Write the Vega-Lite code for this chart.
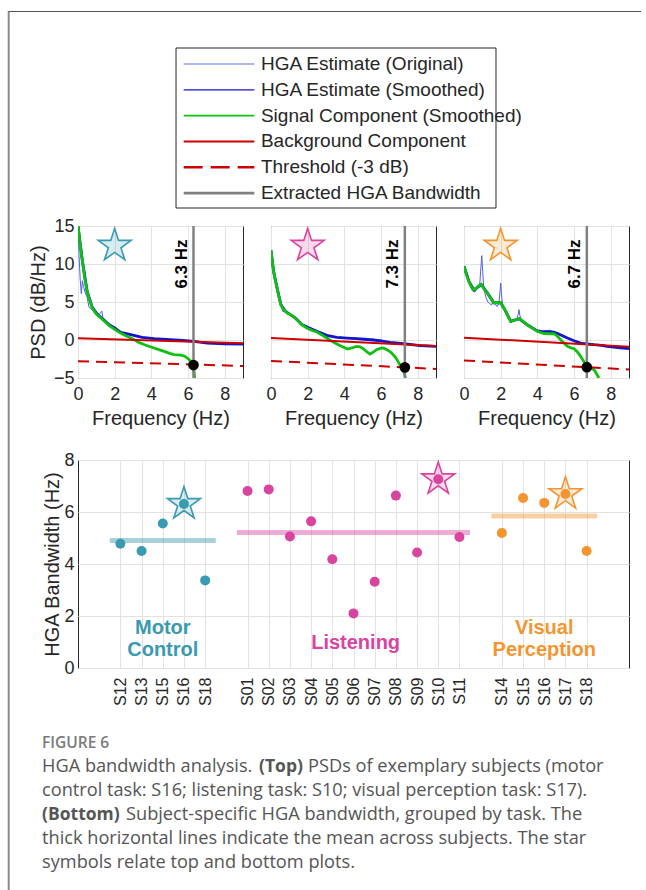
{
  "$schema": "https://vega.github.io/schema/vega-lite/v6.json",
  "background": "white",
  "padding": {"left": 7, "top": 9, "right": 0, "bottom": 0},
  "config": {
    "view": {"stroke": null},
    "font": "Liberation Sans",
    "text": {"font": "Liberation Sans"},
    "axis": {"labelFont": "Liberation Sans", "titleFont": "Liberation Sans", "labelFontSize": 18, "titleFontSize": 20, "labelColor": "#262626", "titleColor": "#262626", "titleFontWeight": "normal", "gridColor": "#e2e2e2", "gridWidth": 1, "domain": false, "ticks": false}
  },
  "datasets": {
    "legend": [
      {"row": 1, "series": "HGA Estimate (Original)"},
      {"row": 2, "series": "HGA Estimate (Smoothed)"},
      {"row": 3, "series": "Signal Component (Smoothed)"},
      {"row": 4, "series": "Background Component"},
      {"row": 5, "series": "Threshold (-3 dB)"},
      {"row": 6, "series": "Extracted HGA Bandwidth"}
    ],
    "psd": [
      {"p":1,"s":"o","f":0,"v":15},{"p":1,"s":"o","f":0.06,"v":11},{"p":1,"s":"o","f":0.12,"v":8},{"p":1,"s":"o","f":0.18,"v":6.1},{"p":1,"s":"o","f":0.24,"v":7.8},{"p":1,"s":"o","f":0.3,"v":7},{"p":1,"s":"o","f":0.4,"v":6.2},{"p":1,"s":"o","f":0.5,"v":5.6},{"p":1,"s":"o","f":0.6,"v":4.3},{"p":1,"s":"o","f":0.7,"v":4.1},{"p":1,"s":"o","f":0.8,"v":3.9},{"p":1,"s":"o","f":0.9,"v":3.6},{"p":1,"s":"o","f":1,"v":3.3},{"p":1,"s":"o","f":1.1,"v":3.1},{"p":1,"s":"o","f":1.2,"v":3.5},{"p":1,"s":"o","f":1.3,"v":3.8},{"p":1,"s":"o","f":1.35,"v":3},{"p":1,"s":"o","f":1.5,"v":2.6},{"p":1,"s":"o","f":1.7,"v":2.1},{"p":1,"s":"o","f":2,"v":1.6},{"p":1,"s":"o","f":2.3,"v":1.1},{"p":1,"s":"o","f":2.6,"v":0.9},{"p":1,"s":"o","f":3,"v":0.65},{"p":1,"s":"o","f":3.4,"v":0.4},{"p":1,"s":"o","f":3.8,"v":0.3},{"p":1,"s":"o","f":4.2,"v":0.2},{"p":1,"s":"o","f":4.6,"v":0.1},{"p":1,"s":"o","f":5,"v":0.05},{"p":1,"s":"o","f":5.5,"v":0},{"p":1,"s":"o","f":6,"v":-0.1},{"p":1,"s":"o","f":6.5,"v":-0.25},{"p":1,"s":"o","f":7,"v":-0.4},{"p":1,"s":"o","f":7.5,"v":-0.45},{"p":1,"s":"o","f":8,"v":-0.5},{"p":1,"s":"o","f":8.5,"v":-0.52},{"p":1,"s":"o","f":9,"v":-0.55},
      {"p":1,"s":"m","f":0,"v":15},{"p":1,"s":"m","f":0.24,"v":10.4},{"p":1,"s":"m","f":0.5,"v":6.4},{"p":1,"s":"m","f":0.78,"v":4.3},{"p":1,"s":"m","f":1.05,"v":3.4},{"p":1,"s":"m","f":1.42,"v":2.6},{"p":1,"s":"m","f":1.7,"v":2},{"p":1,"s":"m","f":2,"v":1.6},{"p":1,"s":"m","f":2.33,"v":1},{"p":1,"s":"m","f":2.7,"v":0.8},{"p":1,"s":"m","f":3.05,"v":0.6},{"p":1,"s":"m","f":3.5,"v":0.35},{"p":1,"s":"m","f":4.15,"v":0.18},{"p":1,"s":"m","f":5.05,"v":0.04},{"p":1,"s":"m","f":5.7,"v":-0.05},{"p":1,"s":"m","f":6.33,"v":-0.18},{"p":1,"s":"m","f":7.05,"v":-0.4},{"p":1,"s":"m","f":8,"v":-0.5},{"p":1,"s":"m","f":9,"v":-0.55},
      {"p":1,"s":"g","f":0,"v":15},{"p":1,"s":"g","f":0.12,"v":12.5},{"p":1,"s":"g","f":0.24,"v":10.4},{"p":1,"s":"g","f":0.36,"v":8.2},{"p":1,"s":"g","f":0.5,"v":6.4},{"p":1,"s":"g","f":0.64,"v":5.2},{"p":1,"s":"g","f":0.78,"v":4.2},{"p":1,"s":"g","f":0.92,"v":3.7},{"p":1,"s":"g","f":1.05,"v":3.3},{"p":1,"s":"g","f":1.25,"v":2.9},{"p":1,"s":"g","f":1.42,"v":2.5},{"p":1,"s":"g","f":1.7,"v":1.9},{"p":1,"s":"g","f":2,"v":1.4},{"p":1,"s":"g","f":2.25,"v":1},{"p":1,"s":"g","f":2.5,"v":0.7},{"p":1,"s":"g","f":2.8,"v":0.35},{"p":1,"s":"g","f":3.05,"v":0.05},{"p":1,"s":"g","f":3.3,"v":-0.3},{"p":1,"s":"g","f":3.6,"v":-0.6},{"p":1,"s":"g","f":3.9,"v":-0.85},{"p":1,"s":"g","f":4.15,"v":-1.05},{"p":1,"s":"g","f":4.45,"v":-1.3},{"p":1,"s":"g","f":4.7,"v":-1.5},{"p":1,"s":"g","f":5,"v":-1.75},{"p":1,"s":"g","f":5.24,"v":-1.93},{"p":1,"s":"g","f":5.6,"v":-2},{"p":1,"s":"g","f":5.8,"v":-2.1},{"p":1,"s":"g","f":5.96,"v":-2.37},{"p":1,"s":"g","f":6.15,"v":-2.8},{"p":1,"s":"g","f":6.3,"v":-3.3},{"p":1,"s":"g","f":6.36,"v":-5},
      {"p":1,"s":"b","f":0,"v":0.22},{"p":1,"s":"b","f":9,"v":-0.42},
      {"p":1,"s":"t","f":0,"v":-2.78},{"p":1,"s":"t","f":9,"v":-3.42},
      {"p":1,"s":"w","f":6.3,"v":-3.3,"lab":"6.3 Hz"},
      {"p":1,"s":"k","f":2,"v":12.4},
      {"p":2,"s":"o","f":0,"v":11.8},{"p":2,"s":"o","f":0.14,"v":9},{"p":2,"s":"o","f":0.33,"v":6.9},{"p":2,"s":"o","f":0.54,"v":4.6},{"p":2,"s":"o","f":0.66,"v":3.7},{"p":2,"s":"o","f":0.78,"v":3.9},{"p":2,"s":"o","f":0.92,"v":3.3},{"p":2,"s":"o","f":1.05,"v":3.5},{"p":2,"s":"o","f":1.2,"v":3},{"p":2,"s":"o","f":1.32,"v":3},{"p":2,"s":"o","f":1.5,"v":2.4},{"p":2,"s":"o","f":1.68,"v":2.1},{"p":2,"s":"o","f":1.85,"v":1.7},{"p":2,"s":"o","f":2,"v":1.75},{"p":2,"s":"o","f":2.2,"v":1.4},{"p":2,"s":"o","f":2.4,"v":1.3},{"p":2,"s":"o","f":2.6,"v":1},{"p":2,"s":"o","f":2.8,"v":0.95},{"p":2,"s":"o","f":3,"v":0.7},{"p":2,"s":"o","f":3.2,"v":0.5},{"p":2,"s":"o","f":3.4,"v":0.5},{"p":2,"s":"o","f":3.6,"v":0.3},{"p":2,"s":"o","f":3.8,"v":0.42},{"p":2,"s":"o","f":4,"v":0.22},{"p":2,"s":"o","f":4.2,"v":0.35},{"p":2,"s":"o","f":4.4,"v":0.15},{"p":2,"s":"o","f":4.6,"v":0.3},{"p":2,"s":"o","f":4.8,"v":0.1},{"p":2,"s":"o","f":5,"v":0.2},{"p":2,"s":"o","f":5.2,"v":0},{"p":2,"s":"o","f":5.4,"v":0.12},{"p":2,"s":"o","f":5.6,"v":0.1},{"p":2,"s":"o","f":5.8,"v":-0.1},{"p":2,"s":"o","f":6,"v":0},{"p":2,"s":"o","f":6.2,"v":-0.2},{"p":2,"s":"o","f":6.4,"v":-0.25},{"p":2,"s":"o","f":6.6,"v":-0.35},{"p":2,"s":"o","f":6.8,"v":-0.3},{"p":2,"s":"o","f":7,"v":-0.5},{"p":2,"s":"o","f":7.2,"v":-0.42},{"p":2,"s":"o","f":7.4,"v":-0.55},{"p":2,"s":"o","f":7.6,"v":-0.5},{"p":2,"s":"o","f":7.8,"v":-0.68},{"p":2,"s":"o","f":8,"v":-0.65},{"p":2,"s":"o","f":8.2,"v":-0.8},{"p":2,"s":"o","f":8.4,"v":-0.72},{"p":2,"s":"o","f":8.6,"v":-0.85},{"p":2,"s":"o","f":8.8,"v":-0.8},{"p":2,"s":"o","f":9,"v":-0.9},
      {"p":2,"s":"m","f":0,"v":11.8},{"p":2,"s":"m","f":0.14,"v":9.05},{"p":2,"s":"m","f":0.33,"v":6.86},{"p":2,"s":"m","f":0.54,"v":4.66},{"p":2,"s":"m","f":0.78,"v":3.78},{"p":2,"s":"m","f":1.05,"v":3.34},{"p":2,"s":"m","f":1.32,"v":2.9},{"p":2,"s":"m","f":1.68,"v":2.05},{"p":2,"s":"m","f":2,"v":1.67},{"p":2,"s":"m","f":2.5,"v":1.14},{"p":2,"s":"m","f":3.04,"v":0.62},{"p":2,"s":"m","f":3.59,"v":0.35},{"p":2,"s":"m","f":4.13,"v":0.26},{"p":2,"s":"m","f":4.67,"v":0.18},{"p":2,"s":"m","f":5.1,"v":0.1},{"p":2,"s":"m","f":5.58,"v":0},{"p":2,"s":"m","f":6,"v":-0.12},{"p":2,"s":"m","f":6.49,"v":-0.31},{"p":2,"s":"m","f":7.21,"v":-0.48},{"p":2,"s":"m","f":7.7,"v":-0.6},{"p":2,"s":"m","f":8.12,"v":-0.75},{"p":2,"s":"m","f":9,"v":-0.84},
      {"p":2,"s":"g","f":0,"v":11.8},{"p":2,"s":"g","f":0.07,"v":10.4},{"p":2,"s":"g","f":0.14,"v":9.05},{"p":2,"s":"g","f":0.24,"v":7.8},{"p":2,"s":"g","f":0.33,"v":6.86},{"p":2,"s":"g","f":0.44,"v":5.6},{"p":2,"s":"g","f":0.54,"v":4.66},{"p":2,"s":"g","f":0.66,"v":4.1},{"p":2,"s":"g","f":0.78,"v":3.78},{"p":2,"s":"g","f":0.92,"v":3.5},{"p":2,"s":"g","f":1.05,"v":3.34},{"p":2,"s":"g","f":1.2,"v":3.1},{"p":2,"s":"g","f":1.32,"v":2.9},{"p":2,"s":"g","f":1.5,"v":2.45},{"p":2,"s":"g","f":1.68,"v":2},{"p":2,"s":"g","f":2,"v":1.5},{"p":2,"s":"g","f":2.25,"v":1.25},{"p":2,"s":"g","f":2.5,"v":1.05},{"p":2,"s":"g","f":2.75,"v":0.7},{"p":2,"s":"g","f":3.04,"v":0.26},{"p":2,"s":"g","f":3.3,"v":-0.15},{"p":2,"s":"g","f":3.59,"v":-0.53},{"p":2,"s":"g","f":3.9,"v":-0.9},{"p":2,"s":"g","f":4.17,"v":-1.19},{"p":2,"s":"g","f":4.4,"v":-1.05},{"p":2,"s":"g","f":4.67,"v":-0.84},{"p":2,"s":"g","f":4.85,"v":-0.9},{"p":2,"s":"g","f":5.04,"v":-1.14},{"p":2,"s":"g","f":5.2,"v":-1.5},{"p":2,"s":"g","f":5.4,"v":-1.85},{"p":2,"s":"g","f":5.58,"v":-1.6},{"p":2,"s":"g","f":5.76,"v":-1.27},{"p":2,"s":"g","f":5.95,"v":-1.1},{"p":2,"s":"g","f":6.12,"v":-1.05},{"p":2,"s":"g","f":6.35,"v":-1.3},{"p":2,"s":"g","f":6.58,"v":-1.71},{"p":2,"s":"g","f":6.8,"v":-2.3},{"p":2,"s":"g","f":7.03,"v":-3.25},{"p":2,"s":"g","f":7.2,"v":-3.7},{"p":2,"s":"g","f":7.34,"v":-5},
      {"p":2,"s":"b","f":0,"v":0.25},{"p":2,"s":"b","f":9,"v":-0.8},
      {"p":2,"s":"t","f":0,"v":-2.75},{"p":2,"s":"t","f":9,"v":-3.8},
      {"p":2,"s":"w","f":7.3,"v":-3.6,"lab":"7.3 Hz"},
      {"p":2,"s":"k","f":2,"v":12.4},
      {"p":3,"s":"o","f":0,"v":9.7},{"p":3,"s":"o","f":0.15,"v":8.3},{"p":3,"s":"o","f":0.3,"v":7.3},{"p":3,"s":"o","f":0.45,"v":6.5},{"p":3,"s":"o","f":0.6,"v":6.3},{"p":3,"s":"o","f":0.75,"v":6.9},{"p":3,"s":"o","f":0.85,"v":7},{"p":3,"s":"o","f":0.92,"v":9.5},{"p":3,"s":"o","f":0.97,"v":11.1},{"p":3,"s":"o","f":1.02,"v":9},{"p":3,"s":"o","f":1.08,"v":6.8},{"p":3,"s":"o","f":1.2,"v":5.6},{"p":3,"s":"o","f":1.3,"v":5},{"p":3,"s":"o","f":1.4,"v":4.8},{"p":3,"s":"o","f":1.5,"v":4.6},{"p":3,"s":"o","f":1.6,"v":5.2},{"p":3,"s":"o","f":1.7,"v":4.7},{"p":3,"s":"o","f":1.8,"v":4.4},{"p":3,"s":"o","f":1.9,"v":4.8},{"p":3,"s":"o","f":1.97,"v":6.5},{"p":3,"s":"o","f":2,"v":7.5},{"p":3,"s":"o","f":2.04,"v":6.2},{"p":3,"s":"o","f":2.1,"v":4.6},{"p":3,"s":"o","f":2.2,"v":4.2},{"p":3,"s":"o","f":2.3,"v":3.4},{"p":3,"s":"o","f":2.4,"v":2.9},{"p":3,"s":"o","f":2.55,"v":2.3},{"p":3,"s":"o","f":2.7,"v":2.5},{"p":3,"s":"o","f":2.85,"v":2.6},{"p":3,"s":"o","f":2.95,"v":3.3},{"p":3,"s":"o","f":3,"v":4},{"p":3,"s":"o","f":3.05,"v":3.2},{"p":3,"s":"o","f":3.15,"v":2.6},{"p":3,"s":"o","f":3.3,"v":2.4},{"p":3,"s":"o","f":3.5,"v":1.9},{"p":3,"s":"o","f":3.7,"v":1.7},{"p":3,"s":"o","f":3.9,"v":1.2},{"p":3,"s":"o","f":4.1,"v":1.3},{"p":3,"s":"o","f":4.3,"v":1.1},{"p":3,"s":"o","f":4.5,"v":1.2},{"p":3,"s":"o","f":4.7,"v":1.3},{"p":3,"s":"o","f":4.9,"v":1},{"p":3,"s":"o","f":5.1,"v":0.85},{"p":3,"s":"o","f":5.3,"v":0.6},{"p":3,"s":"o","f":5.5,"v":0.35},{"p":3,"s":"o","f":5.7,"v":0.2},{"p":3,"s":"o","f":5.9,"v":0.05},{"p":3,"s":"o","f":6.1,"v":-0.1},{"p":3,"s":"o","f":6.3,"v":-0.35},{"p":3,"s":"o","f":6.5,"v":-0.4},{"p":3,"s":"o","f":6.7,"v":-0.55},{"p":3,"s":"o","f":6.9,"v":-0.5},{"p":3,"s":"o","f":7.1,"v":-0.65},{"p":3,"s":"o","f":7.3,"v":-0.6},{"p":3,"s":"o","f":7.5,"v":-0.75},{"p":3,"s":"o","f":7.7,"v":-0.8},{"p":3,"s":"o","f":7.9,"v":-0.85},{"p":3,"s":"o","f":8.1,"v":-0.9},{"p":3,"s":"o","f":8.3,"v":-1},{"p":3,"s":"o","f":8.5,"v":-0.95},{"p":3,"s":"o","f":8.7,"v":-1.1},{"p":3,"s":"o","f":8.9,"v":-1.15},{"p":3,"s":"o","f":9,"v":-1.15},
      {"p":3,"s":"m","f":0,"v":9.7},{"p":3,"s":"m","f":0.27,"v":7.7},{"p":3,"s":"m","f":0.54,"v":6.6},{"p":3,"s":"m","f":0.94,"v":7.3},{"p":3,"s":"m","f":1.27,"v":6.2},{"p":3,"s":"m","f":1.63,"v":4.9},{"p":3,"s":"m","f":2,"v":4.9},{"p":3,"s":"m","f":2.27,"v":3.8},{"p":3,"s":"m","f":2.55,"v":2.46},{"p":3,"s":"m","f":3,"v":2.8},{"p":3,"s":"m","f":3.45,"v":2},{"p":3,"s":"m","f":4,"v":1.2},{"p":3,"s":"m","f":4.18,"v":1.14},{"p":3,"s":"m","f":4.5,"v":1.1},{"p":3,"s":"m","f":4.9,"v":1.05},{"p":3,"s":"m","f":5.2,"v":0.75},{"p":3,"s":"m","f":5.64,"v":0.26},{"p":3,"s":"m","f":6,"v":-0.1},{"p":3,"s":"m","f":6.36,"v":-0.4},{"p":3,"s":"m","f":6.7,"v":-0.5},{"p":3,"s":"m","f":7.09,"v":-0.62},{"p":3,"s":"m","f":7.5,"v":-0.72},{"p":3,"s":"m","f":7.8,"v":-0.84},{"p":3,"s":"m","f":8.4,"v":-1},{"p":3,"s":"m","f":9,"v":-1.14},
      {"p":3,"s":"g","f":0,"v":9.7},{"p":3,"s":"g","f":0.13,"v":8.6},{"p":3,"s":"g","f":0.27,"v":7.7},{"p":3,"s":"g","f":0.4,"v":7},{"p":3,"s":"g","f":0.54,"v":6.6},{"p":3,"s":"g","f":0.7,"v":6.9},{"p":3,"s":"g","f":0.85,"v":7.2},{"p":3,"s":"g","f":0.94,"v":7.3},{"p":3,"s":"g","f":1.05,"v":6.9},{"p":3,"s":"g","f":1.15,"v":6.5},{"p":3,"s":"g","f":1.27,"v":6.2},{"p":3,"s":"g","f":1.45,"v":5.5},{"p":3,"s":"g","f":1.63,"v":4.9},{"p":3,"s":"g","f":1.8,"v":4.95},{"p":3,"s":"g","f":2,"v":4.9},{"p":3,"s":"g","f":2.13,"v":4.4},{"p":3,"s":"g","f":2.27,"v":3.8},{"p":3,"s":"g","f":2.4,"v":3.1},{"p":3,"s":"g","f":2.55,"v":2.46},{"p":3,"s":"g","f":2.75,"v":2.6},{"p":3,"s":"g","f":3,"v":2.8},{"p":3,"s":"g","f":3.2,"v":2.5},{"p":3,"s":"g","f":3.45,"v":2},{"p":3,"s":"g","f":3.7,"v":1.6},{"p":3,"s":"g","f":4,"v":1.14},{"p":3,"s":"g","f":4.2,"v":0.95},{"p":3,"s":"g","f":4.36,"v":0.84},{"p":3,"s":"g","f":4.6,"v":0.82},{"p":3,"s":"g","f":4.9,"v":0.84},{"p":3,"s":"g","f":5.1,"v":0.5},{"p":3,"s":"g","f":5.27,"v":0.04},{"p":3,"s":"g","f":5.45,"v":-0.4},{"p":3,"s":"g","f":5.64,"v":-0.84},{"p":3,"s":"g","f":5.8,"v":-1},{"p":3,"s":"g","f":6,"v":-1.14},{"p":3,"s":"g","f":6.2,"v":-1.6},{"p":3,"s":"g","f":6.36,"v":-2.15},{"p":3,"s":"g","f":6.55,"v":-2.9},{"p":3,"s":"g","f":6.73,"v":-3.56},{"p":3,"s":"g","f":6.9,"v":-3.7},{"p":3,"s":"g","f":7.09,"v":-3.9},{"p":3,"s":"g","f":7.22,"v":-4.4},{"p":3,"s":"g","f":7.36,"v":-5},
      {"p":3,"s":"b","f":0,"v":0.3},{"p":3,"s":"b","f":9,"v":-0.88},
      {"p":3,"s":"t","f":0,"v":-2.7},{"p":3,"s":"t","f":9,"v":-3.88},
      {"p":3,"s":"w","f":6.7,"v":-3.58,"lab":"6.7 Hz"},
      {"p":3,"s":"k","f":2,"v":12.4}
    ],
    "subj": [
      {"task":"Motor Control","subject":"S12","pos":2,"bw":4.78,"star":false},
      {"task":"Motor Control","subject":"S13","pos":3,"bw":4.5,"star":false},
      {"task":"Motor Control","subject":"S15","pos":4,"bw":5.56,"star":false},
      {"task":"Motor Control","subject":"S16","pos":5,"bw":6.31,"star":true},
      {"task":"Motor Control","subject":"S18","pos":6,"bw":3.37,"star":false},
      {"task":"Listening","subject":"S01","pos":8,"bw":6.81,"star":false},
      {"task":"Listening","subject":"S02","pos":9,"bw":6.87,"star":false},
      {"task":"Listening","subject":"S03","pos":10,"bw":5.06,"star":false},
      {"task":"Listening","subject":"S04","pos":11,"bw":5.64,"star":false},
      {"task":"Listening","subject":"S05","pos":12,"bw":4.18,"star":false},
      {"task":"Listening","subject":"S06","pos":13,"bw":2.1,"star":false},
      {"task":"Listening","subject":"S07","pos":14,"bw":3.32,"star":false},
      {"task":"Listening","subject":"S08","pos":15,"bw":6.63,"star":false},
      {"task":"Listening","subject":"S09","pos":16,"bw":4.44,"star":false},
      {"task":"Listening","subject":"S10","pos":17,"bw":7.26,"star":true},
      {"task":"Listening","subject":"S11","pos":18,"bw":5.04,"star":false},
      {"task":"Visual Perception","subject":"S14","pos":20,"bw":5.19,"star":false},
      {"task":"Visual Perception","subject":"S15","pos":21,"bw":6.54,"star":false},
      {"task":"Visual Perception","subject":"S16","pos":22,"bw":6.35,"star":false},
      {"task":"Visual Perception","subject":"S17","pos":23,"bw":6.69,"star":true},
      {"task":"Visual Perception","subject":"S18","pos":24,"bw":4.5,"star":false}
    ],
    "means": [
      {"task":"Motor Control","x1":1.5,"x2":6.5,"mean":4.9},
      {"task":"Listening","x1":7.5,"x2":18.5,"mean":5.21},
      {"task":"Visual Perception","x1":19.5,"x2":24.5,"mean":5.85}
    ],
    "groups": [
      {"task":"Motor Control","label":"Motor\nControl","x":4,"y":1.3},
      {"task":"Listening","label":"Listening","x":13.1,"y":0.72},
      {"task":"Visual Perception","label":"Visual\nPerception","x":22,"y":1.3}
    ]
  },
  "resolve": {"scale": {"color": "independent", "fill": "independent", "stroke": "independent", "strokeWidth": "independent", "strokeDash": "independent", "x": "independent", "y": "independent"}},
  "bounds": "flush",
  "spacing": 18,
  "vconcat": [
    {
      "width": 551,
      "height": 160,
      "data": {"name": "legend"},
      "layer": [
        {"data": {"values": [{}]}, "mark": {"type": "rule", "color": "#8a8a8a", "strokeWidth": 2},
         "encoding": {"x": {"datum": -12.577, "type": "quantitative", "scale": {"domain": [0, 100], "nice": false, "zero": false}, "axis": null},
                      "y": {"datum": -1.054, "type": "quantitative", "scale": {"domain": [0.38, 6.58], "reverse": true, "nice": false, "zero": false}, "axis": null},
                      "y2": {"datum": 33.05}}},
        {"data": {"values": [{}]}, "mark": {"type": "rule", "color": "#555555", "strokeWidth": 1},
         "encoding": {"x": {"datum": -12.577, "type": "quantitative"}, "x2": {"datum": 102.18},
                      "y": {"datum": -1.034, "type": "quantitative"}}},
        {"data": {"values": [{}]}, "mark": {"type": "rect", "fill": "white", "stroke": "#262626", "strokeWidth": 1},
         "encoding": {"x": {"datum": 17.79, "type": "quantitative"}, "x2": {"datum": 75.86},
                      "y": {"datum": 0.38, "type": "quantitative"}, "y2": {"datum": 6.58}}},
        {"mark": {"type": "rule"},
         "encoding": {"x": {"datum": 19.18, "type": "quantitative"}, "x2": {"datum": 32.0},
                      "y": {"field": "row", "type": "quantitative"},
                      "color": {"field": "series", "type": "nominal", "legend": null, "scale": {"domain": ["HGA Estimate (Original)", "HGA Estimate (Smoothed)", "Signal Component (Smoothed)", "Background Component", "Threshold (-3 dB)", "Extracted HGA Bandwidth"], "range": ["#4d61e6", "#1414c8", "#10c010", "#cc0000", "#cc0000", "#808080"]}},
                      "strokeWidth": {"field": "series", "type": "ordinal", "legend": null, "scale": {"domain": ["HGA Estimate (Original)", "HGA Estimate (Smoothed)", "Signal Component (Smoothed)", "Background Component", "Threshold (-3 dB)", "Extracted HGA Bandwidth"], "range": [1, 2.8, 2.8, 2, 2, 2.5]}},
                      "strokeDash": {"field": "series", "type": "nominal", "legend": null, "scale": {"domain": ["HGA Estimate (Original)", "HGA Estimate (Smoothed)", "Signal Component (Smoothed)", "Background Component", "Threshold (-3 dB)", "Extracted HGA Bandwidth"], "range": [[1, 0], [1, 0], [1, 0], [1, 0], [19, 8], [1, 0]]}}}},
        {"mark": {"type": "text", "align": "left", "baseline": "middle", "fontSize": 19, "color": "#262626"},
         "encoding": {"x": {"datum": 33.2, "type": "quantitative"},
                      "y": {"field": "row", "type": "quantitative"},
                      "text": {"field": "series"}}}
      ]
    },
    {
      "bounds": "flush",
      "spacing": 234,
      "resolve": {"scale": {"color": "independent", "fill": "independent", "stroke": "independent", "x": "independent", "y": "independent"}},
      "vconcat": [
        {
          "bounds": "flush",
          "spacing": 28,
          "hconcat": [
            {
              "width": 165, "height": 152,
              "view": {"stroke": "#262626", "strokeWidth": 1},
              "data": {"name": "psd"},
              "transform": [{"filter": "datum.p == 1"}],
              "encoding": {
                "x": {"field": "f", "type": "quantitative", "scale": {"domain": [0, 9], "nice": false, "zero": false},
                      "axis": {"values": [0, 2, 4, 6, 8], "title": "Frequency (Hz)", "grid": true, "labelFlush": false, "labelPadding": 7, "titlePadding": 5}},
                "y": {"field": "v", "type": "quantitative", "scale": {"domain": [-5, 15], "nice": false, "zero": false},
                      "axis": {"values": [-5, 0, 5, 10, 15], "title": "PSD (dB/Hz)", "grid": true, "labelPadding": 4, "titlePadding": 5}}
              },
              "layer": [
                {"transform": [{"filter": "datum.s == 'o'"}], "mark": {"type": "line", "color": "#4d61e6", "strokeWidth": 1, "clip": true}},
                {"transform": [{"filter": "datum.s == 'm'"}], "mark": {"type": "line", "color": "#1414c8", "strokeWidth": 2.8, "clip": true}},
                {"transform": [{"filter": "datum.s == 'g'"}], "mark": {"type": "line", "color": "#10c010", "strokeWidth": 2.8, "clip": true}},
                {"transform": [{"filter": "datum.s == 'b'"}], "mark": {"type": "line", "color": "#cc0000", "strokeWidth": 2, "clip": true}},
                {"transform": [{"filter": "datum.s == 't'"}], "mark": {"type": "line", "color": "#cc0000", "strokeWidth": 2, "strokeDash": [11, 7], "clip": true}},
                {"transform": [{"filter": "datum.s == 'w'"}], "mark": {"type": "rule", "color": "#808080", "strokeWidth": 2.5}, "encoding": {"y": {"datum": -5}, "y2": {"datum": 15}}},
                {"transform": [{"filter": "datum.s == 'w'"}], "mark": {"type": "circle", "color": "black", "size": 115, "opacity": 1}},
                {"transform": [{"filter": "datum.s == 'w'"}], "mark": {"type": "text", "angle": 270, "baseline": "bottom", "align": "center", "dy": -3, "fontSize": 17, "fontWeight": "bold", "color": "black"}, "encoding": {"y": {"datum": 10}, "text": {"field": "lab"}}},
                {"transform": [{"filter": "datum.s == 'k'"}], "mark": {"type": "point", "shape": "M0,-1L0.2245,-0.309L0.9511,-0.309L0.3633,0.118L0.5878,0.809L0,0.382L-0.5878,0.809L-0.3633,0.118L-0.9511,-0.309L-0.2245,-0.309Z", "size": 1200, "filled": true, "fill": "#3a9ab0", "fillOpacity": 0.2, "stroke": "#3a9ab0", "strokeWidth": 1.6, "opacity": 1}}
              ]
            },
            {
              "width": 165, "height": 152,
              "view": {"stroke": "#262626", "strokeWidth": 1},
              "data": {"name": "psd"},
              "transform": [{"filter": "datum.p == 2"}],
              "encoding": {
                "x": {"field": "f", "type": "quantitative", "scale": {"domain": [0, 9], "nice": false, "zero": false},
                      "axis": {"values": [0, 2, 4, 6, 8], "title": "Frequency (Hz)", "grid": true, "labelFlush": false, "labelPadding": 7, "titlePadding": 5}},
                "y": {"field": "v", "type": "quantitative", "scale": {"domain": [-5, 15], "nice": false, "zero": false},
                      "axis": {"values": [-5, 0, 5, 10, 15], "title": null, "grid": true, "labels": false}}
              },
              "layer": [
                {"transform": [{"filter": "datum.s == 'o'"}], "mark": {"type": "line", "color": "#4d61e6", "strokeWidth": 1, "clip": true}},
                {"transform": [{"filter": "datum.s == 'm'"}], "mark": {"type": "line", "color": "#1414c8", "strokeWidth": 2.8, "clip": true}},
                {"transform": [{"filter": "datum.s == 'g'"}], "mark": {"type": "line", "color": "#10c010", "strokeWidth": 2.8, "clip": true}},
                {"transform": [{"filter": "datum.s == 'b'"}], "mark": {"type": "line", "color": "#cc0000", "strokeWidth": 2, "clip": true}},
                {"transform": [{"filter": "datum.s == 't'"}], "mark": {"type": "line", "color": "#cc0000", "strokeWidth": 2, "strokeDash": [11, 7], "clip": true}},
                {"transform": [{"filter": "datum.s == 'w'"}], "mark": {"type": "rule", "color": "#808080", "strokeWidth": 2.5}, "encoding": {"y": {"datum": -5}, "y2": {"datum": 15}}},
                {"transform": [{"filter": "datum.s == 'w'"}], "mark": {"type": "circle", "color": "black", "size": 115, "opacity": 1}},
                {"transform": [{"filter": "datum.s == 'w'"}], "mark": {"type": "text", "angle": 270, "baseline": "bottom", "align": "center", "dy": -3, "fontSize": 17, "fontWeight": "bold", "color": "black"}, "encoding": {"y": {"datum": 10}, "text": {"field": "lab"}}},
                {"transform": [{"filter": "datum.s == 'k'"}], "mark": {"type": "point", "shape": "M0,-1L0.2245,-0.309L0.9511,-0.309L0.3633,0.118L0.5878,0.809L0,0.382L-0.5878,0.809L-0.3633,0.118L-0.9511,-0.309L-0.2245,-0.309Z", "size": 1200, "filled": true, "fill": "#d9449f", "fillOpacity": 0.2, "stroke": "#d9449f", "strokeWidth": 1.6, "opacity": 1}}
              ]
            },
            {
              "width": 165, "height": 152,
              "view": {"stroke": "#262626", "strokeWidth": 1},
              "data": {"name": "psd"},
              "transform": [{"filter": "datum.p == 3"}],
              "encoding": {
                "x": {"field": "f", "type": "quantitative", "scale": {"domain": [0, 9], "nice": false, "zero": false},
                      "axis": {"values": [0, 2, 4, 6, 8], "title": "Frequency (Hz)", "grid": true, "labelFlush": false, "labelPadding": 7, "titlePadding": 5}},
                "y": {"field": "v", "type": "quantitative", "scale": {"domain": [-5, 15], "nice": false, "zero": false},
                      "axis": {"values": [-5, 0, 5, 10, 15], "title": null, "grid": true, "labels": false}}
              },
              "layer": [
                {"transform": [{"filter": "datum.s == 'o'"}], "mark": {"type": "line", "color": "#4d61e6", "strokeWidth": 1, "clip": true}},
                {"transform": [{"filter": "datum.s == 'm'"}], "mark": {"type": "line", "color": "#1414c8", "strokeWidth": 2.8, "clip": true}},
                {"transform": [{"filter": "datum.s == 'g'"}], "mark": {"type": "line", "color": "#10c010", "strokeWidth": 2.8, "clip": true}},
                {"transform": [{"filter": "datum.s == 'b'"}], "mark": {"type": "line", "color": "#cc0000", "strokeWidth": 2, "clip": true}},
                {"transform": [{"filter": "datum.s == 't'"}], "mark": {"type": "line", "color": "#cc0000", "strokeWidth": 2, "strokeDash": [11, 7], "clip": true}},
                {"transform": [{"filter": "datum.s == 'w'"}], "mark": {"type": "rule", "color": "#808080", "strokeWidth": 2.5}, "encoding": {"y": {"datum": -5}, "y2": {"datum": 15}}},
                {"transform": [{"filter": "datum.s == 'w'"}], "mark": {"type": "circle", "color": "black", "size": 115, "opacity": 1}},
                {"transform": [{"filter": "datum.s == 'w'"}], "mark": {"type": "text", "angle": 270, "baseline": "bottom", "align": "center", "dy": -3, "fontSize": 17, "fontWeight": "bold", "color": "black"}, "encoding": {"y": {"datum": 10}, "text": {"field": "lab"}}},
                {"transform": [{"filter": "datum.s == 'k'"}], "mark": {"type": "point", "shape": "M0,-1L0.2245,-0.309L0.9511,-0.309L0.3633,0.118L0.5878,0.809L0,0.382L-0.5878,0.809L-0.3633,0.118L-0.9511,-0.309L-0.2245,-0.309Z", "size": 1200, "filled": true, "fill": "#f4952f", "fillOpacity": 0.2, "stroke": "#f4952f", "strokeWidth": 1.6, "opacity": 1}}
              ]
            }
          ]
        },
        {
          "bounds": "flush",
          "spacing": 58,
          "resolve": {"scale": {"color": "independent", "fill": "independent", "stroke": "independent", "x": "independent", "y": "independent"}},
          "vconcat": [
            {
              "width": 551, "height": 208,
              "view": {"stroke": "#262626", "strokeWidth": 1},
              "encoding": {
                "x": {"type": "quantitative", "scale": {"domain": [0, 26], "nice": false, "zero": false},
                      "axis": {"values": [2, 3, 4, 5, 6, 8, 9, 10, 11, 12, 13, 14, 15, 16, 17, 18, 20, 21, 22, 23, 24],
                               "labelExpr": "['','','S12','S13','S15','S16','S18','','S01','S02','S03','S04','S05','S06','S07','S08','S09','S10','S11','','S14','S15','S16','S17','S18'][datum.value]",
                               "labelAngle": 270, "labelFontSize": 16, "labelPadding": 9, "title": null, "grid": true, "labelFlush": false, "labelOverlap": false}},
                "y": {"type": "quantitative", "scale": {"domain": [0, 8], "nice": false, "zero": false},
                      "axis": {"values": [0, 2, 4, 6, 8], "title": "HGA Bandwidth (Hz)", "grid": true, "labelPadding": 4, "titlePadding": 1}}
              },
              "layer": [
                {"data": {"name": "means"}, "mark": {"type": "rule", "strokeWidth": 5, "opacity": 0.45},
                 "encoding": {"x": {"field": "x1", "type": "quantitative"}, "x2": {"field": "x2"}, "y": {"field": "mean", "type": "quantitative"},
                              "color": {"field": "task", "type": "nominal", "legend": null, "scale": {"domain": ["Motor Control", "Listening", "Visual Perception"], "range": ["#3a9ab0", "#d9449f", "#f4952f"]}}}},
                {"data": {"name": "subj"}, "transform": [{"filter": "datum.star"}],
                 "mark": {"type": "point", "shape": "M0,-1L0.2245,-0.309L0.9511,-0.309L0.3633,0.118L0.5878,0.809L0,0.382L-0.5878,0.809L-0.3633,0.118L-0.9511,-0.309L-0.2245,-0.309Z", "size": 1200, "filled": true, "fillOpacity": 0.2, "strokeWidth": 1.6, "opacity": 1},
                 "encoding": {"x": {"field": "pos", "type": "quantitative"}, "y": {"field": "bw", "type": "quantitative"},
                              "fill": {"field": "task", "type": "nominal", "legend": null, "scale": {"domain": ["Motor Control", "Listening", "Visual Perception"], "range": ["#3a9ab0", "#d9449f", "#f4952f"]}},
                              "stroke": {"field": "task", "type": "nominal", "legend": null, "scale": {"domain": ["Motor Control", "Listening", "Visual Perception"], "range": ["#3a9ab0", "#d9449f", "#f4952f"]}}}},
                {"data": {"name": "subj"}, "mark": {"type": "circle", "size": 100, "opacity": 1},
                 "encoding": {"x": {"field": "pos", "type": "quantitative"}, "y": {"field": "bw", "type": "quantitative"},
                              "color": {"field": "task", "type": "nominal", "legend": null}}},
                {"data": {"name": "groups"}, "mark": {"type": "text", "fontSize": 20, "fontWeight": "bold", "lineBreak": "\n", "lineHeight": 22, "baseline": "alphabetic", "align": "center"},
                 "encoding": {"x": {"field": "x", "type": "quantitative"}, "y": {"field": "y", "type": "quantitative"}, "text": {"field": "label"},
                              "color": {"field": "task", "type": "nominal", "legend": null}}}
              ]
            },
            {
              "width": 551, "height": 150,
              "layer": [
                {"data": {"values": [{"line": 0, "text": "FIGURE 6"}]},
                 "mark": {"type": "text", "align": "left", "baseline": "middle", "font": "Open Sans", "fontSize": 15.5, "fontWeight": 600, "color": "#7a7a7a"},
                 "encoding": {"x": {"datum": -6.53, "type": "quantitative", "scale": {"domain": [0, 100], "nice": false, "zero": false}, "axis": null},
                              "y": {"field": "line", "type": "quantitative", "scale": {"domain": [-0.708, 5.542], "reverse": true, "nice": false, "zero": false}, "axis": null},
                              "text": {"field": "text"}}},
                {"data": {"values": [
                   {"line": 1, "text": "HGA bandwidth analysis."},
                   {"line": 2, "text": "control task: S16; listening task: S10; visual perception task: S17)."},
                   {"line": 4, "text": "thick horizontal lines indicate the mean across subjects. The star"},
                   {"line": 5, "text": "symbols relate top and bottom plots."}]},
                 "mark": {"type": "text", "align": "left", "baseline": "middle", "font": "Open Sans", "fontSize": 18.2, "color": "#555555"},
                 "encoding": {"x": {"datum": -6.53, "type": "quantitative"}, "y": {"field": "line", "type": "quantitative"}, "text": {"field": "text"}}},
                {"data": {"values": [{"line": 1, "text": "(Top)"}]},
                 "mark": {"type": "text", "align": "left", "baseline": "middle", "font": "Open Sans", "fontSize": 17.5, "fontWeight": "bold", "color": "#555555", "dx": 217},
                 "encoding": {"x": {"datum": -6.53, "type": "quantitative"}, "y": {"field": "line", "type": "quantitative"}, "text": {"field": "text"}}},
                {"data": {"values": [{"line": 1, "text": "PSDs of exemplary subjects (motor"}]},
                 "mark": {"type": "text", "align": "left", "baseline": "middle", "font": "Open Sans", "fontSize": 18.2, "color": "#555555", "dx": 266},
                 "encoding": {"x": {"datum": -6.53, "type": "quantitative"}, "y": {"field": "line", "type": "quantitative"}, "text": {"field": "text"}}},
                {"data": {"values": [{"line": 3, "text": "(Bottom)"}]},
                 "mark": {"type": "text", "align": "left", "baseline": "middle", "font": "Open Sans", "fontSize": 17.5, "fontWeight": "bold", "color": "#555555"},
                 "encoding": {"x": {"datum": -6.53, "type": "quantitative"}, "y": {"field": "line", "type": "quantitative"}, "text": {"field": "text"}}},
                {"data": {"values": [{"line": 3, "text": "Subject-specific HGA bandwidth, grouped by task. The"}]},
                 "mark": {"type": "text", "align": "left", "baseline": "middle", "font": "Open Sans", "fontSize": 18.2, "color": "#555555", "dx": 84},
                 "encoding": {"x": {"datum": -6.53, "type": "quantitative"}, "y": {"field": "line", "type": "quantitative"}, "text": {"field": "text"}}}
              ]
            }
          ]
        }
      ]
    }
  ]
}
